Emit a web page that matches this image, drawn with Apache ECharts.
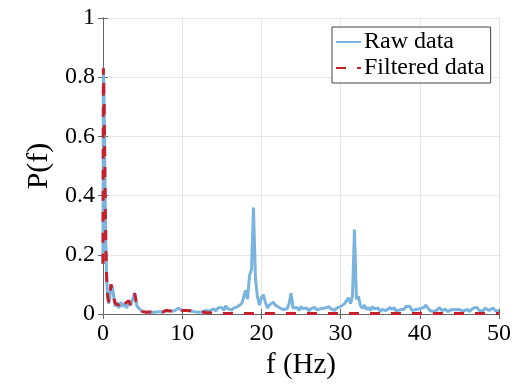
<!DOCTYPE html>
<html>
<head>
<meta charset="utf-8">
<script src="https://cdn.jsdelivr.net/npm/echarts@6/dist/echarts.min.js"></script>
<style>
html,body{margin:0;padding:0;background:#fff;}
#chart{width:514px;height:387px;}
</style>
</head>
<body>
<div id="chart"></div>
<script>
// ---- Data ----
const xTicks = [0, 10, 20, 30, 40, 50];
const yTicks = [0, 0.2, 0.4, 0.6, 0.8, 1];
const seriesNames = ['Raw data', 'Filtered data'];

// Low-frequency part (same sampling for raw and filtered), f in Hz
const lowFreq = [0.00, 0.05, 0.15, 0.25, 0.35, 0.45, 0.55, 0.70, 0.85, 1.00,
  1.10, 1.25, 1.40, 1.55, 1.75, 2.00, 2.25, 2.50, 2.75, 3.00,
  3.25, 3.50, 3.75, 4.00, 4.25, 4.50, 4.75, 5.00, 5.25, 5.50,
  5.75, 6.00, 6.25, 6.50, 6.75, 7.00, 7.25, 7.50, 7.75, 8.00,
  8.25, 8.50, 8.75, 9.00, 9.25, 9.50, 9.75, 10.00, 10.25, 10.50,
  10.75, 11.00, 11.25, 11.50, 11.75, 12.00, 12.25, 12.50, 12.75, 13.00,
  13.25, 13.50];
const lowRaw = [0.17, 0.83, 0.70, 0.45, 0.25, 0.13, 0.07, 0.035, 0.05, 0.10,
  0.105, 0.08, 0.05, 0.025, 0.04, 0.02, 0.04, 0.025, 0.035, 0.02,
  0.045, 0.03, 0.05, 0.07, 0.03, 0.02, 0.015, 0.008, 0.012, 0.006,
  0.01, 0.007, 0.011, 0.006, 0.01, 0.008, 0.012, 0.006, 0.009, 0.012,
  0.007, 0.01, 0.006, 0.01, 0.013, 0.02, 0.025, 0.012, 0.008, 0.012,
  0.007, 0.011, 0.016, 0.008, 0.012, 0.006, 0.01, 0.007, 0.009, 0.012,
  0.015, 0.01];
const lowFilt = [0.17, 0.83, 0.70, 0.45, 0.25, 0.13, 0.07, 0.04, 0.05, 0.10,
  0.105, 0.08, 0.05, 0.035, 0.04, 0.03, 0.04, 0.025, 0.035, 0.03,
  0.045, 0.03, 0.05, 0.07, 0.03, 0.02, 0.015, 0.008, 0.012, 0.006,
  0.01, 0.007, 0.011, 0.006, 0.01, 0.008, 0.012, 0.006, 0.009, 0.012,
  0.007, 0.01, 0.006, 0.01, 0.013, 0.02, 0.025, 0.012, 0.008, 0.012,
  0.007, 0.011, 0.016, 0.008, 0.012, 0.006, 0.01, 0.007, 0.009, 0.005,
  0.008, 0.004];

// High-frequency raw part: f = 13.75, 14.00, ... 50.00 (0.25 Hz spacing)
const highStart = 13.75, highStep = 0.25;
const highRaw = [
  0.012,
  0.018, 0.010, 0.020, 0.014,   // 14
  0.022, 0.012, 0.028, 0.018,   // 15
  0.024, 0.013, 0.020, 0.016,   // 16
  0.025, 0.020, 0.035, 0.055,   // 17
  0.080, 0.050, 0.130, 0.150,   // 18
  0.360, 0.120, 0.058, 0.030,   // 19
  0.055, 0.065, 0.040, 0.020,   // 20
  0.030, 0.025, 0.040, 0.030,   // 21
  0.035, 0.022, 0.020, 0.015,   // 22
  0.020, 0.018, 0.035, 0.070,   // 23
  0.020, 0.015, 0.022, 0.012,   // 24
  0.025, 0.018, 0.012, 0.020,   // 25
  0.010, 0.018, 0.012, 0.022,   // 26
  0.014, 0.010, 0.018, 0.012,   // 27
  0.020, 0.015, 0.025, 0.018,   // 28
  0.022, 0.012, 0.020, 0.015,   // 29
  0.025, 0.030, 0.035, 0.045,   // 30
  0.055, 0.035, 0.060, 0.285,   // 31
  0.050, 0.060, 0.028, 0.020,   // 32
  0.030, 0.015, 0.022, 0.012,   // 33
  0.025, 0.018, 0.012, 0.020,   // 34
  0.008, 0.015, 0.010, 0.012,   // 35
  0.018, 0.022, 0.015, 0.022,   // 36
  0.010, 0.008, 0.014, 0.010,   // 37
  0.016, 0.025, 0.020, 0.026,   // 38
  0.012, 0.008, 0.015, 0.010,   // 39
  0.018, 0.012, 0.022, 0.030,   // 40
  0.025, 0.012, 0.015, 0.008,   // 41
  0.012, 0.015, 0.022, 0.012,   // 42
  0.010, 0.016, 0.008, 0.012,   // 43
  0.015, 0.010, 0.014, 0.020,   // 44
  0.015, 0.020, 0.010, 0.012,   // 45
  0.016, 0.008, 0.012, 0.020,   // 46
  0.015, 0.022, 0.012, 0.018,   // 47
  0.010, 0.020, 0.015, 0.012,   // 48
  0.018, 0.020, 0.012, 0.016,   // 49
  0.010                         // 50
];

// High-frequency filtered part (nearly zero)
const highFiltFreq = [14, 20, 25, 30, 35, 40, 45, 50];
const highFilt = [0.002, 0.002, 0.002, 0.002, 0.002, 0.002, 0.002, 0.002];

// ---- Build series data ----
const rawData = lowFreq.map((f, i) => [f, lowRaw[i]])
  .concat(highRaw.map((p, i) => [highStart + i * highStep, p]));
const filtData = lowFreq.map((f, i) => [f, lowFilt[i]])
  .concat(highFiltFreq.map((f, i) => [f, highFilt[i]]));

const FONT = 'Liberation Serif';
const axisCol = '#666';

const chart = echarts.init(document.getElementById('chart'), null, {renderer: 'canvas'});
const baseX = {
  type: 'value', min: xTicks[0], max: xTicks[xTicks.length - 1], interval: 10
};
const baseY = {
  type: 'value', min: yTicks[0], max: yTicks[yTicks.length - 1], interval: 0.2
};
chart.setOption({
  animation: false,
  backgroundColor: '#fff',
  grid: {left: 103, right: 13, top: 18, bottom: 73, containLabel: false},
  legend: {
    orient: 'vertical',
    left: 332, top: 27,
    data: seriesNames,
    backgroundColor: '#fff',
    borderColor: '#444', borderWidth: 1, borderRadius: 0,
    padding: [3, 6, 3, 3],
    itemWidth: 25, itemHeight: 12, itemGap: 2,
    itemStyle: {opacity: 0},
    textStyle: {fontFamily: FONT, fontSize: 24, color: '#000', padding: [0, 0, 0, -2]}
  },
  xAxis: [
    Object.assign({}, baseX, {
      position: 'bottom',
      name: 'f (Hz)', nameLocation: 'middle', nameGap: 35,
      nameTextStyle: {fontFamily: FONT, fontSize: 29, color: '#000'},
      axisLine: {show: true, lineStyle: {color: axisCol, width: 1}},
      axisTick: {show: true, inside: true, length: 5, lineStyle: {color: axisCol}},
      axisLabel: {fontFamily: FONT, fontSize: 24, color: '#000', margin: 8},
      splitLine: {show: true, lineStyle: {color: '#e6e6e6', width: 1}}
    }),
    Object.assign({}, baseX, {
      position: 'top',
      axisLine: {show: true, lineStyle: {color: axisCol, width: 1}},
      axisTick: {show: true, inside: true, length: 5, lineStyle: {color: axisCol}},
      axisLabel: {show: false},
      splitLine: {show: false}
    })
  ],
  yAxis: [
    Object.assign({}, baseY, {
      position: 'left',
      name: 'P(f)', nameLocation: 'middle', nameGap: 44, nameRotate: 90,
      nameTextStyle: {fontFamily: FONT, fontSize: 30, color: '#000'},
      axisLine: {show: true, lineStyle: {color: axisCol, width: 1}},
      axisTick: {show: true, inside: true, length: 5, lineStyle: {color: axisCol}},
      axisLabel: {fontFamily: FONT, fontSize: 24, color: '#000', margin: 8},
      splitLine: {show: true, lineStyle: {color: '#e6e6e6', width: 1}}
    }),
    Object.assign({}, baseY, {
      position: 'right',
      axisLine: {show: true, lineStyle: {color: axisCol, width: 1}},
      axisTick: {show: true, inside: true, length: 5, lineStyle: {color: axisCol}},
      axisLabel: {show: false},
      splitLine: {show: false}
    })
  ],
  series: [
    {
      name: seriesNames[0], type: 'line', data: rawData,
      xAxisIndex: 0, yAxisIndex: 0,
      showSymbol: false, symbol: 'none',
      lineStyle: {color: '#7ab4de', width: 3},
      itemStyle: {color: '#7ab4de'},
      z: 2
    },
    {
      name: seriesNames[1], type: 'line', data: filtData,
      xAxisIndex: 0, yAxisIndex: 0,
      showSymbol: false, symbol: 'none',
      lineStyle: {color: '#c8202a', width: 3, type: [10, 11]},
      itemStyle: {color: '#c8202a'},
      z: 3
    }
  ]
});
</script>
</body>
</html>
